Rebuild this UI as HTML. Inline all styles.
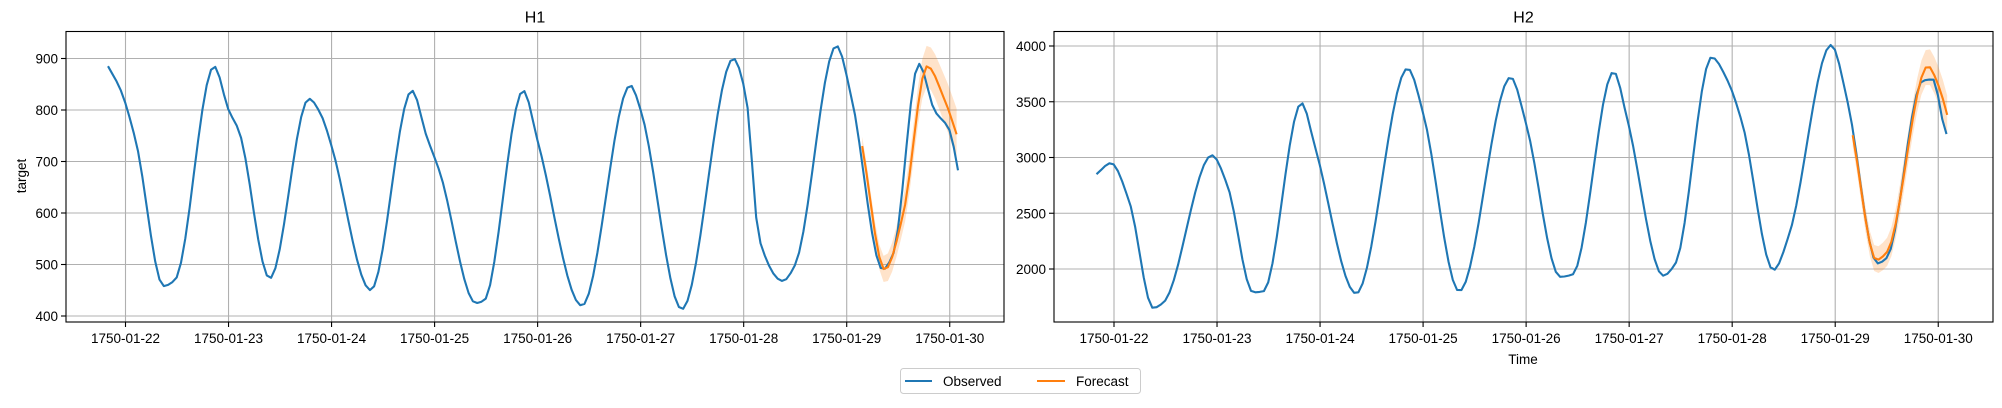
<!DOCTYPE html>
<html><head><meta charset="utf-8"><style>
body{margin:0;background:#fff}
svg text{font-family:"Liberation Sans","DejaVu Sans",sans-serif;fill:#000}
</style></head><body>
<svg id="s" width="2002" height="403" xmlns="http://www.w3.org/2000/svg"></svg>
<script>
const s=document.getElementById('s');let h='';
function slopes(k){const n=k.length,d=[],m=[];for(let i=0;i<n-1;i++)d.push((k[i+1][1]-k[i][1])/(k[i+1][0]-k[i][0]));
 for(let i=0;i<n;i++){if(i==0)m.push(d[0]);else if(i==n-1)m.push(d[n-2]);else if(d[i-1]*d[i]<=0)m.push(0);else{const h0=k[i][0]-k[i-1][0],h1=k[i+1][0]-k[i][0];const w1=2*h1+h0,w2=h1+2*h0;m.push((w1+w2)/(w1/d[i-1]+w2/d[i]));}}return m;}
function interp(k,d){const m=k._m||(k._m=slopes(k));for(let i=0;i<k.length-1;i++){if(d>=k[i][0]&&d<=k[i+1][0]){const hh=k[i+1][0]-k[i][0],t=(d-k[i][0])/hh;const t2=t*t,t3=t2*t;return (2*t3-3*t2+1)*k[i][1]+(t3-2*t2+t)*hh*m[i]+(-2*t3+3*t2)*k[i+1][1]+(t3-t2)*hh*m[i+1];}}return k[k.length-1][1];}
function pts(k,X,Y,off){let a=[];for(let d=k[0][0];d<=k[k.length-1][0]+1e-6;d+=1/24){a.push([X(d),Y(interp(k,d)+(off?off(d):0))]);}return a;}
function pl(a,c,w){return `<polyline fill="none" stroke="${c}" stroke-width="${w}" stroke-linejoin="round" points="${a.map(p=>p[0].toFixed(1)+','+p[1].toFixed(1)).join(' ')}"/>`;}
function panel(o){
 const{x0,x1,y0,y1,X,Y,yt,obs,fc,band,title}=o;
 for(let d=22;d<=30;d++){const x=X(d);h+=`<line x1="${x}" y1="${y0}" x2="${x}" y2="${y1}" stroke="#b0b0b0" stroke-width="1.1"/><line x1="${x}" y1="${y1}" x2="${x}" y2="${y1+5}" stroke="#000" stroke-width="1.1"/><text x="${x}" y="${y1+21}" font-size="13.5" text-anchor="middle">1750-01-${d}</text>`;}
 for(const v of yt){const y=Y(v);h+=`<line x1="${x0}" y1="${y}" x2="${x1}" y2="${y}" stroke="#b0b0b0" stroke-width="1.1"/><line x1="${x0-5}" y1="${y}" x2="${x0}" y2="${y}" stroke="#000" stroke-width="1.1"/><text x="${x0-8}" y="${y+5}" font-size="13.5" text-anchor="end">${v}</text>`;}
 const up=pts(fc,X,Y,d=>band(d)),lo=pts(fc,X,Y,d=>-band(d));
 h+=`<polygon fill="#ff7f0e" fill-opacity="0.22" points="${up.concat(lo.reverse()).map(p=>p[0].toFixed(1)+','+p[1].toFixed(1)).join(' ')}"/>`;
 h+=pl(pts(obs,X,Y),'#1f77b4',2.1);
 h+=pl(pts(fc,X,Y),'#ff7f0e',2.1);
 h+=`<rect x="${x0}" y="${y0}" width="${x1-x0}" height="${y1-y0}" fill="none" stroke="#000" stroke-width="1.1"/>`;
 h+=`<text x="${(x0+x1)/2}" y="${y0-9}" font-size="16" text-anchor="middle">${title}</text>`;
}
const XL=d=>125.5+(d-22)*103.03, YL=v=>58.5+(900-v)*0.515;
panel({x0:66,x1:1004,y0:31.5,y1:322,X:XL,Y:YL,yt:[400,500,600,700,800,900],title:'H1',
obs:[[21.83,885],[21.95,840],[22.1,740],[22.37,458],[22.48,470],[22.86,885],[23.0,800],[23.1,760],[23.4,473],[23.78,822],[23.9,790],[24.0,730],[24.38,450],[24.78,838],[24.92,750],[25.05,680],[25.4,425],[25.48,430],[25.86,838],[26.0,740],[26.43,420],[26.9,848],[27.0,800],[27.4,413],[27.9,900],[28.02,830],[28.15,550],[28.38,468],[28.5,500],[28.9,925],[29.05,820],[29.35,490],[29.45,520],[29.7,890],[29.85,800],[30.0,760],[30.08,683]],
fc:[[29.15,730],[29.37,490],[29.55,600],[29.78,885],[29.95,820],[30.08,745]],
band:d=>18+(d-29.15)*35});
const XR=d=>1114+(d-22)*103.03, YR=v=>46+(4000-v)*0.1115;
panel({x0:1054,x1:1993,y0:31.5,y1:322,X:XR,Y:YR,yt:[2000,2500,3000,3500,4000],title:'H2',
obs:[[21.83,2850],[21.97,2950],[22.15,2600],[22.38,1650],[22.48,1700],[22.95,3020],[23.1,2750],[23.35,1790],[23.45,1800],[23.82,3490],[23.95,3100],[24.35,1780],[24.85,3800],[25.0,3400],[25.35,1800],[25.85,3720],[26.0,3300],[26.33,1930],[26.45,1950],[26.85,3770],[26.98,3350],[27.33,1940],[27.45,2050],[27.8,3900],[27.95,3700],[28.1,3300],[28.4,1990],[28.55,2300],[28.96,4010],[29.12,3500],[29.41,2050],[29.5,2100],[29.85,3690],[29.95,3700],[30.05,3300],[30.12,3100]],
fc:[[29.17,3200],[29.4,2080],[29.5,2150],[29.9,3820],[30.0,3650],[30.12,3270]],
band:d=>100+(d-29.17)*80});
h+=`<text x="26" y="176" font-size="13.5" text-anchor="middle" transform="rotate(-90 26 176)">target</text>`;
h+=`<text x="1523" y="364" font-size="13.5" text-anchor="middle">Time</text>`;
h+=`<rect x="900.5" y="368.5" width="240" height="25" rx="3" fill="#fff" stroke="#ccc"/>`;
h+=`<line x1="905" y1="381" x2="932" y2="381" stroke="#1f77b4" stroke-width="2.1"/><text x="943" y="386" font-size="13.5">Observed</text>`;
h+=`<line x1="1037" y1="381" x2="1065" y2="381" stroke="#ff7f0e" stroke-width="2.1"/><text x="1076" y="386" font-size="13.5">Forecast</text>`;
s.innerHTML=h;
</script>
</body></html>
